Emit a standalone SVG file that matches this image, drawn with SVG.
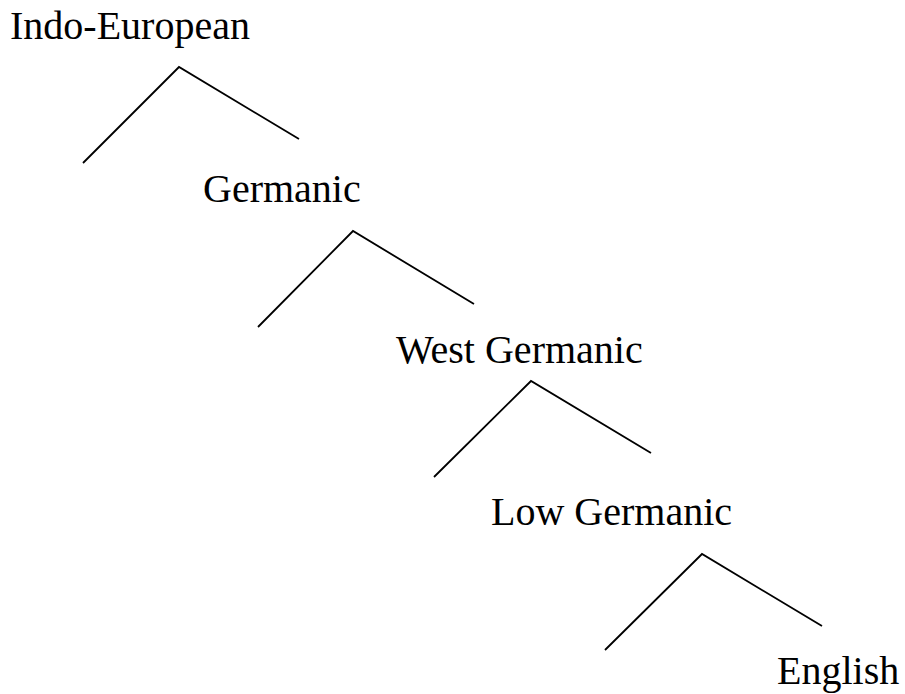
<svg xmlns="http://www.w3.org/2000/svg" width="905" height="694" viewBox="0 0 905 694">
<style>
.lbl{font-family:"Liberation Serif","Times New Roman",serif;font-size:40px;fill:#000}
.br{fill:none;stroke:#000;stroke-width:1.8}
</style>
<rect width="905" height="694" fill="#fff"/>
<g id="indo-european"><text class="lbl" x="10" y="39">Indo-European</text></g>
<g id="germanic"><text class="lbl" x="203" y="202">Germanic</text></g>
<g id="west-germanic"><text class="lbl" x="396" y="363">West Germanic</text></g>
<g id="low-germanic"><text class="lbl" x="491" y="525">Low Germanic</text></g>
<g id="english"><text class="lbl" x="777" y="684">English</text></g>
<g id="connectors">
<polyline class="br" points="83,163 179,67 299,139"/>
<polyline class="br" points="258,327 353,231 474,304"/>
<polyline class="br" points="434,477 531,381 651,453"/>
<polyline class="br" points="605,650 702,554 822,626"/>
</g>
</svg>
